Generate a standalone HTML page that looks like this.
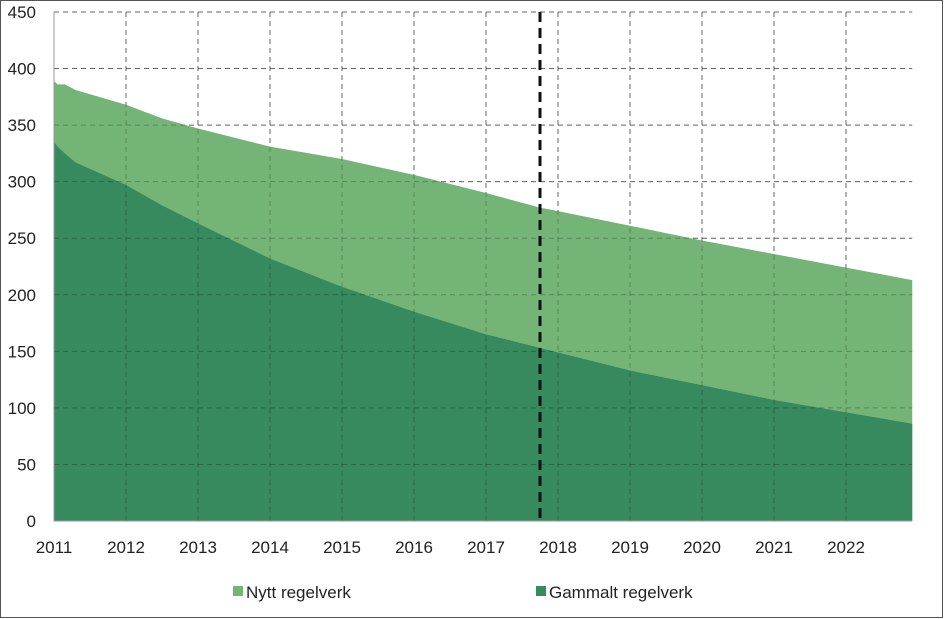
<!DOCTYPE html>
<html><head><meta charset="utf-8"><style>
html,body{margin:0;padding:0;background:#fff}
svg{display:block;font-family:"Liberation Sans",Arial,sans-serif}
</style></head><body>
<svg id="chart" width="944" height="619" viewBox="0 0 944 619">
<rect x="0.5" y="0.5" width="942" height="617" fill="#fff" stroke="#555"/>
<g id="grid"></g>
<g id="areas"></g>
<g id="axes"></g>
<g id="legend">
<rect x="233" y="586" width="10" height="10" fill="#74b477"/>
<text x="246" y="598" font-size="17" fill="#222">Nytt regelverk</text>
<rect x="536" y="586" width="10" height="10" fill="#378a5e"/>
<text x="549" y="598" font-size="17" fill="#222">Gammalt regelverk</text>
</g>
</svg>
<script>
const years=[2011,2011.05,2011.15,2011.3,2012,2012.5,2013,2014,2015,2016,2017,2017.75,2018,2019,2020,2021,2022,2022.92];
const totalValues=[389,386,386,381,368,356,347,331,320,306,290,277,274,261,248,236,224,213];
const oldValues=[335,331,325,317,297,279,263,232,207,185,165,153,149,133,120,107,96,86];
const yTicks=[0,50,100,150,200,250,300,350,400,450];
const xTicks=[2011,2012,2013,2014,2015,2016,2017,2018,2019,2020,2021,2022];
const cutoffYear=2017.75;
const X=v=>54+(v-2011)*72;
const Y=v=>521-v*(509/450);
const NS="http://www.w3.org/2000/svg";
function mk(tag,attrs,parent){const e=document.createElementNS(NS,tag);for(const k in attrs)e.setAttribute(k,attrs[k]);parent.appendChild(e);return e;}
const grid=document.getElementById('grid'),areas=document.getElementById('areas'),axes=document.getElementById('axes');
const x0=X(years[0]),x1=X(years[years.length-1]);
yTicks.forEach(t=>{
 if(t>0){const l=mk('line',{x1:x0,x2:x1,y1:Y(t),y2:Y(t),stroke:'#888','stroke-dasharray':'5,4','stroke-width':1},grid);
 
 }
 const tx=mk('text',{x:36,y:Y(t)+6,'font-size':17,'text-anchor':'end',fill:'#222'},axes);
 tx.textContent=t;
 
 
});
xTicks.forEach(t=>{
 if(t>2011){const l=mk('line',{x1:X(t),x2:X(t),y1:Y(450),y2:Y(0),stroke:'#888','stroke-dasharray':'5,4','stroke-width':1},grid);
 
 }
 const tx=mk('text',{x:X(t),y:553,'font-size':17,'text-anchor':'middle',fill:'#222'},axes);
 tx.textContent=t;
 
 
});
let dT='M'+x0+','+Y(0);years.forEach((y,i)=>dT+=' L'+X(y)+','+Y(totalValues[i]));dT+=' L'+x1+','+Y(0)+'Z';
const pT=mk('path',{d:dT,fill:'#74b477'},areas);


let dO='M'+x0+','+Y(0);years.forEach((y,i)=>dO+=' L'+X(y)+','+Y(oldValues[i]));dO+=' L'+x1+','+Y(0)+'Z';
const pO=mk('path',{d:dO,fill:'#378a5e'},areas);


xTicks.forEach(t=>{if(t>2011){const l=mk('line',{x1:X(t),x2:X(t),y1:Y(450),y2:Y(0),stroke:'rgba(0,0,0,0.25)','stroke-dasharray':'5,4'},areas);
 
 }});
yTicks.forEach(t=>{if(t>0){const l=mk('line',{x1:x0,x2:x1,y1:Y(t),y2:Y(t),stroke:'rgba(0,0,0,0.25)','stroke-dasharray':'5,4'},areas);
 
 }});
const ya=mk('line',{x1:x0,x2:x0,y1:Y(450),y2:Y(0),stroke:'#999'},axes);


const xa=mk('line',{x1:x0,x2:x1,y1:Y(0),y2:Y(0),stroke:'#999'},axes);


const cut=mk('line',{x1:X(cutoffYear),x2:X(cutoffYear),y1:Y(450),y2:Y(0),stroke:'#111','stroke-width':3,'stroke-dasharray':'10,6'},axes);


</script>
</body></html>
